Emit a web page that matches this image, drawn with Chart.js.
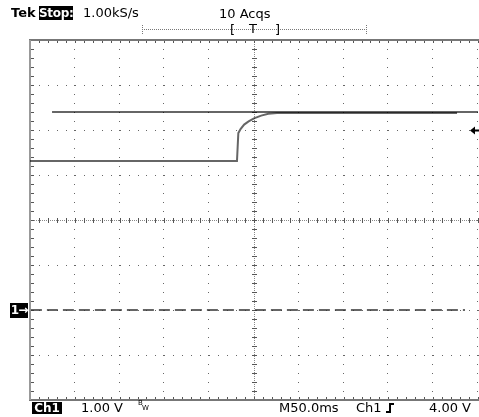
<!DOCTYPE html>
<html>
<head>
<meta charset="utf-8">
<script src="https://cdn.jsdelivr.net/npm/chart.js@4"></script>
<style>
  html, body { margin: 0; padding: 0; background: #fff; overflow: hidden; }
  #wrap { position: relative; width: 479px; height: 417px; }
  canvas { position: absolute; left: 0; top: 0; }
  .t { position: absolute; font-family: "DejaVu Sans", sans-serif; font-size: 13px; line-height: 13px; color: #000; white-space: pre; }
  .inv { background: #000; color: #fff; font-weight: bold; text-align: center; }
  .edge { position: absolute; border: 0 solid #000; }
</style>
</head>
<body>
<div id="wrap">
  <canvas id="scope" width="479" height="417"></canvas>

  <!-- top status line -->
  <div class="t" style="left:11px;top:6px;font-weight:bold">Tek</div>
  <div class="t inv" style="left:39px;top:6px;width:34px;height:14px;line-height:14px;font-size:12px;letter-spacing:-0.3px">Stop:</div>
  <div class="t" style="left:83px;top:6px">1.00kS/s</div>
  <div class="t" style="left:219px;top:7px">10 Acqs</div>
  <div class="t" style="left:230px;top:23px">[</div>
  <div class="t" style="left:249px;top:22px">T</div>
  <div class="t" style="left:275px;top:23px">]</div>

  <!-- channel ground marker -->
  <div class="t inv" style="left:10px;top:303px;width:18px;height:15px;line-height:15px;font-size:12px;letter-spacing:-1px">1→</div>

  <!-- bottom status line -->
  <div class="t inv" style="left:32px;top:402px;width:30px;height:12px;line-height:12px;font-size:12px">Ch1</div>
  <div class="t" style="left:81px;top:401px">1.00 V</div>
  <div class="t" style="left:138px;top:400px;font-size:7px;line-height:7px">B</div>
  <div class="t" style="left:142px;top:405px;font-size:7px;line-height:7px">W</div>
  <div class="t" style="left:279px;top:401px">M50.0ms</div>
  <div class="t" style="left:356px;top:401px">Ch1</div>
  <div class="edge" style="left:386px;top:404px;width:3px;height:7px;border-right-width:2px;border-bottom-width:2px"></div>
  <div class="edge" style="left:389px;top:403px;width:5px;height:0;border-top-width:2px"></div>
  <div class="t" style="left:429px;top:401px">4.00 V</div>
</div>

<script>
// Ch1 trace (time in ms from screen centre, volts)
const sigTime  = [-250, -19, -17.5, -15, -11, -6, 0, 8, 16, 25.7, 226.6];
const sigVolts = [3.31, 3.31, 3.93, 4.02, 4.12, 4.19, 4.26, 4.32, 4.36, 4.38, 4.38];

// reference waveform line
const refTime  = [-225.4, 250];
const refVolts = [4.40, 4.40];

// ground level of channel 1
const gndTime  = [-249, 235.5];
const gndVolts = [0, 0];

const trigLevel = 4.00;

// graticule: 50 ms/div, 1 V/div
const timeGrid = [-250, -200, -150, -100, -50, 0, 50, 100, 150, 200, 250];
const voltGrid = [-2, -1, 0, 1, 2, 3, 4, 5, 6];

function toPoints(xs, ys) {
    return xs.map((x, i) => ({ x: x, y: ys[i] }));
}

const graticule = {
    id: 'graticule',
    beforeDatasetsDraw(chart) {
        const { ctx, chartArea: a, scales: { x, y } } = chart;
        const minorT = [];
        for (let t = timeGrid[0]; t <= timeGrid[timeGrid.length - 1] + 0.01; t += 10) minorT.push(t);
        const minorV = [];
        for (let v = voltGrid[0]; v <= voltGrid[voltGrid.length - 1] + 0.01; v += 0.2) minorV.push(v);

        ctx.save();
        // dotted major lines
        ctx.fillStyle = '#666';
        timeGrid.slice(1).forEach(t => {
            if (t === 0) return;
            const px = Math.min(Math.round(x.getPixelForValue(t)), 478) - 1;
            minorV.forEach(v => ctx.fillRect(px, Math.round(y.getPixelForValue(v)), 1, 1));
        });
        voltGrid.slice(1, -1).forEach(v => {
            if (v === 2) return;
            const py = Math.round(y.getPixelForValue(v));
            minorT.forEach(t => ctx.fillRect(Math.round(x.getPixelForValue(t)), py, 1, 1));
        });

        // centre cross with minor ticks
        const cx = Math.round(x.getPixelForValue(0));
        const cy = Math.round(y.getPixelForValue(2));
        ctx.fillStyle = '#888';
        for (let py = a.top; py < a.bottom; py += 2) ctx.fillRect(cx, py, 1, 1);
        for (let px = a.left; px < a.right; px += 2) ctx.fillRect(px, cy, 1, 1);
        ctx.fillStyle = '#555';
        minorV.forEach(v => ctx.fillRect(cx - 2, Math.round(y.getPixelForValue(v)), 5, 1));
        minorT.forEach(t => ctx.fillRect(Math.round(x.getPixelForValue(t)), cy - 2, 1, 5));

        // edge ticks
        minorT.forEach(t => {
            const px = Math.round(x.getPixelForValue(t));
            ctx.fillRect(px, a.top, 1, 3);
            ctx.fillRect(px, a.bottom - 3, 1, 3);
        });
        minorV.forEach(v => ctx.fillRect(a.left, Math.round(y.getPixelForValue(v)), 4, 1));

        // frame
        ctx.fillStyle = '#777';
        ctx.fillRect(a.left - 1, a.top - 1, a.right - a.left + 2, 2);
        ctx.fillRect(a.left - 1, a.bottom - 1, a.right - a.left + 2, 2);
        ctx.fillStyle = '#999';
        ctx.fillRect(a.left - 1, a.top, 2, a.bottom - a.top);
        ctx.restore();
    },
    afterDraw(chart) {
        const { ctx, scales: { y } } = chart;
        ctx.save();
        // record-length bar above the graticule
        ctx.strokeStyle = '#777';
        ctx.lineWidth = 1;
        ctx.setLineDash([1, 1]);
        ctx.beginPath();
        ctx.moveTo(142, 29.5); ctx.lineTo(366, 29.5);
        ctx.moveTo(142.5, 25); ctx.lineTo(142.5, 34);
        ctx.moveTo(366.5, 25); ctx.lineTo(366.5, 34);
        ctx.stroke();
        ctx.setLineDash([]);

        // trigger level arrow
        const ty = Math.round(y.getPixelForValue(trigLevel)) + 0.5;
        ctx.fillStyle = '#000';
        ctx.beginPath();
        ctx.moveTo(470, ty);
        ctx.lineTo(475, ty - 4);
        ctx.lineTo(475, ty + 4);
        ctx.closePath();
        ctx.fill();
        ctx.fillRect(474, ty - 1, 5, 2);
        ctx.restore();
    }
};

new Chart(document.getElementById('scope'), {
    type: 'line',
    data: {
        datasets: [
            {
                label: 'Ch1',
                data: toPoints(sigTime, sigVolts),
                borderColor: 'rgba(0,0,0,0.6)',
                borderWidth: 2,
                pointRadius: 0,
                tension: 0
            },
            {
                label: 'Ref',
                data: toPoints(refTime, refVolts),
                borderColor: 'rgba(0,0,0,0.6)',
                borderWidth: 2,
                pointRadius: 0
            },
            {
                label: 'Ground',
                data: toPoints(gndTime, gndVolts),
                borderColor: '#333',
                borderWidth: 1.5,
                borderDash: [11, 5],
                pointRadius: 0
            }
        ]
    },
    options: {
        responsive: false,
        animation: false,
        layout: { padding: { left: 30, right: 1, top: 40, bottom: 17 } },
        plugins: { legend: { display: false }, tooltip: { enabled: false } },
        scales: {
            x: { type: 'linear', min: timeGrid[0], max: timeGrid[timeGrid.length - 1], display: false },
            y: { type: 'linear', min: voltGrid[0], max: voltGrid[voltGrid.length - 1], display: false }
        }
    },
    plugins: [graticule]
});
</script>
</body>
</html>
